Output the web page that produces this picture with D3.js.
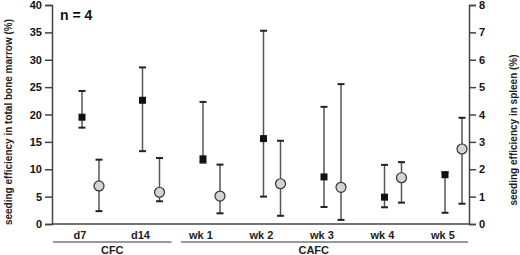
<!DOCTYPE html>
<html><head><meta charset="utf-8">
<script src="https://cdn.jsdelivr.net/npm/d3@7"></script>
<style>body{margin:0;background:#fff}svg{display:block;font-family:Arial,"Liberation Sans",sans-serif}</style>
</head><body>
<svg id="c" width="520" height="255"></svg>
<script>
const categories = ["d7","d14","wk 1","wk 2","wk 3","wk 4","wk 5"];
const groupNames = ["CFC","CAFC"];
const groupMembers = [["d7","d14"],["wk 1","wk 2","wk 3","wk 4","wk 5"]];
// bone marrow (left axis, %)
const marrowMean = [19.5, 22.6, 11.9, 15.6, 8.6, 4.9, 9.0];
const marrowHigh = [24.3, 28.6, 22.3, 35.3, 21.4, 10.8, 9.4];
const marrowLow  = [17.6, 13.3, 11.2, 5.0, 3.1, 3.05, 2.05];
// spleen (right axis, %)
const spleenMean = [1.39, 1.16, 1.02, 1.47, 1.34, 1.69, 2.74];
const spleenHigh = [2.35, 2.41, 2.17, 3.04, 5.11, 2.26, 3.88];
const spleenLow  = [0.47, 0.83, 0.39, 0.30, 0.15, 0.78, 0.74];
const leftTicks = [0,5,10,15,20,25,30,35,40];
const rightTicks = [0,1,2,3,4,5,6,7,8];

const svg = d3.select("#c");
const X0 = 52, X1 = 469, Y0 = 224, Y1 = 5;
const yL = d3.scaleLinear().domain([0,40]).range([Y0,Y1]);
const yR = d3.scaleLinear().domain([0,8]).range([Y0,Y1]);
const x = d3.scalePoint().domain(categories).range([80, 443]);
const off = 17;

const axL = svg.append("g").attr("transform",`translate(${X0},0)`)
  .call(d3.axisLeft(yL).tickValues(leftTicks).tickSize(7).tickPadding(3));
const axR = svg.append("g").attr("transform",`translate(${X1},0)`)
  .call(d3.axisRight(yR).tickValues(rightTicks).tickSize(7).tickPadding(3));
[axL,axR].forEach(a=>{
  a.attr("font-family",null).attr("font-size",null);
  a.select(".domain").attr("stroke","#444").attr("stroke-width",1.5);
  a.selectAll(".tick line").attr("stroke","#444").attr("stroke-width",1.5);
  a.selectAll(".tick text").style("font-size","11px").style("font-weight","bold").attr("fill","#111");
});
svg.append("line").attr("x1",X0).attr("x2",X1).attr("y1",Y0).attr("y2",Y0)
  .attr("stroke","#444").attr("stroke-width",1.5);

svg.selectAll(".cat").data(categories).enter().append("text")
  .attr("x",d=>x(d)).attr("y",239).attr("text-anchor","middle")
  .style("font-size","11px").style("font-weight","bold").attr("fill","#222").text(d=>d);

groupNames.forEach((g,i)=>{
  const m = groupMembers[i];
  const a = i===0 ? X0+1 : x(m[0]) - 20;
  const b = i===0 ? x(m[m.length-1]) + 31 : X1 - 1;
  svg.append("line").attr("x1",a).attr("x2",b).attr("y1",242).attr("y2",242)
    .attr("stroke","#333").attr("stroke-width",1.2);
  svg.append("text").attr("x", i===0 ? (a+b)/2 : (x(m[1])+x(m[2]))/2+22).attr("y",253.5).attr("text-anchor","middle")
    .style("font-size","11px").style("font-weight","bold").attr("fill","#222").text(g);
});

function errBar(xp, y, hi, lo){
  const g = svg.append("g");
  g.append("line").attr("x1",xp).attr("x2",xp).attr("y1",y(hi)).attr("y2",y(lo))
    .attr("stroke","#555").attr("stroke-width",1.5);
  [hi,lo].forEach(v=>g.append("line").attr("x1",xp-3.5).attr("x2",xp+3.5)
    .attr("y1",y(v)).attr("y2",y(v)).attr("stroke","#222").attr("stroke-width",2));
}
categories.forEach((c,i)=>{
  errBar(x(c)+2, yL, marrowHigh[i], marrowLow[i]);
  errBar(x(c)+2+off, yR, spleenHigh[i], spleenLow[i]);
});
svg.selectAll(".sq").data(categories).enter().append("rect")
  .attr("x",d=>x(d)+2-3.5).attr("y",(d,i)=>yL(marrowMean[i])-3.5)
  .attr("width",7).attr("height",7).attr("fill","#111");
svg.selectAll(".ci").data(categories).enter().append("circle")
  .attr("cx",d=>x(d)+2+off).attr("cy",(d,i)=>yR(spleenMean[i])).attr("r",5)
  .attr("fill","#d4d4d4").attr("stroke","#333").attr("stroke-width",1.2);

svg.append("text").attr("x",60).attr("y",20).style("font-size","14px").style("font-weight","bold")
  .attr("fill","#111").text("n = 4");
svg.append("text").attr("transform","translate(12,122) rotate(-90)").attr("text-anchor","middle")
  .style("font-size","10px").style("font-weight","bold").attr("fill","#222")
  .text("seeding efficiency in total bone marrow (%)");
svg.append("text").attr("transform","translate(517,130) rotate(-90)").attr("text-anchor","middle")
  .style("font-size","10px").style("font-weight","bold").attr("fill","#222")
  .text("seeding efficiency in spleen (%)");
</script>
</body></html>
